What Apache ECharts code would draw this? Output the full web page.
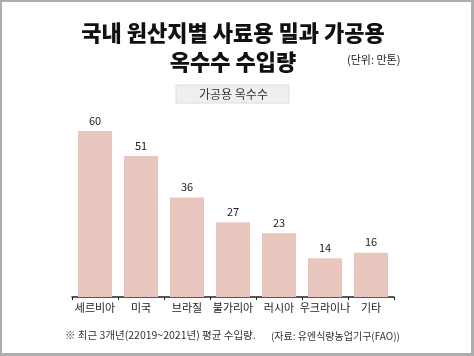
<!DOCTYPE html>
<html><head><meta charset="utf-8">
<script src="https://cdn.jsdelivr.net/npm/echarts@6/dist/echarts.min.js"></script>
<style>html,body{margin:0;padding:0;background:#fff}#c{width:474px;height:356px}</style>
</head><body><div id="c"></div>
<script>
const categories = ['세르비아','미국','브라질','불가리아','러시아','우크라이나','기타'];
const values = [60, 51, 36, 27, 23, 14, 16];
const seriesName = '가공용 옥수수';
const titleText = '국내 원산지별 사료용 밀과 가공용\n옥수수 수입량';
const unitText = '(단위: 만톤)';
const noteText = '※ 최근 3개년(22019~2021년) 평균 수입량.';
const sourceText = '(자료: 유엔식량농업기구(FAO))';
const FONT = '"Noto Sans CJK KR", "Noto Sans", sans-serif';

const chart = echarts.init(document.getElementById('c'));
chart.setOption({
  animation: false,
  textStyle: { fontFamily: FONT },
  title: {
    text: titleText, left: 228, top: 13, textAlign: 'center',
    textStyle: { fontSize: 22, fontWeight: 900, color: '#111', lineHeight: 29, fontFamily: FONT }
  },
  legend: {
    data: [seriesName], left: 176, top: 85,
    itemWidth: 0, itemHeight: 12, itemGap: 0,
    padding: [3, 21, 3, 18],
    backgroundColor: '#efefef', borderColor: '#dcdcdc', borderWidth: 1,
    textStyle: { fontSize: 12, color: '#333', fontFamily: FONT },
    selectedMode: false
  },
  grid: { left: 72, right: 80, top: 131, bottom: 59, containLabel: false },
  xAxis: {
    type: 'category', data: categories,
    axisLine: { lineStyle: { color: '#222', width: 1.5 } },
    axisTick: { show: true, length: 3, lineStyle: { color: '#222' } },
    axisLabel: { fontSize: 11, color: '#222', margin: 5, interval: 0, fontFamily: FONT }
  },
  yAxis: { type: 'value', min: 0, max: 60, show: false, splitLine: { show: false } },
  series: [{
    name: seriesName, type: 'bar', data: values, barWidth: '74%',
    itemStyle: { color: '#e9c6bd' },
    label: { show: true, position: 'top', distance: 5, fontSize: 11, color: '#222', fontFamily: FONT }
  }],
  graphic: [
    { type: 'text', left: 347, top: 54, style: { text: unitText, fontSize: 11, fill: '#222', fontFamily: FONT } },
    { type: 'text', left: 65, top: 330, style: { text: noteText, fontSize: 10.5, fill: '#333', fontFamily: FONT } },
    { type: 'text', right: 74, top: 331, style: { text: sourceText, fontSize: 10, fill: '#333', fontFamily: FONT } },
    { type: 'rect', shape: { x: 0, y: 0, width: 2, height: 356 }, style: { fill: '#adadad' } },
    { type: 'rect', shape: { x: 0, y: 0, width: 474, height: 2 }, style: { fill: '#adadad' } },
    { type: 'rect', shape: { x: 471, y: 0, width: 3, height: 356 }, style: { fill: '#adadad' } },
    { type: 'rect', shape: { x: 0, y: 353, width: 474, height: 3 }, style: { fill: '#adadad' } }
  ]
});
</script></body></html>
